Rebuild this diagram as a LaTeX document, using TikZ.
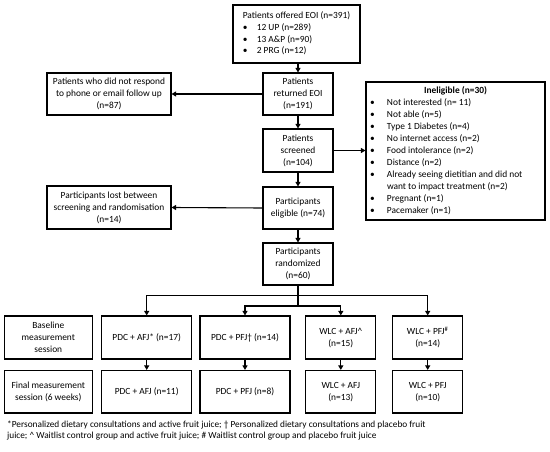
\documentclass[tikz,border=0pt]{standalone}
\usepackage{fontspec}
\setmainfont{Carlito}
\usetikzlibrary{arrows.meta}
\begin{document}
\begin{tikzpicture}[x=1pt,y=-1pt,
 box/.style={draw, line width=1.1pt, inner sep=0pt, align=center, font=\fontsize{9.4}{12}\selectfont},
 arr/.style={line width=1.1pt, -{Triangle[length=4.5pt,width=5pt]}},
 ln/.style={line width=1.1pt}]
\useasboundingbox (0,0) rectangle (550,452);

\node[box, minimum width=127pt, minimum height=58pt] (top) at (296.5,34)
 {\fontsize{9.4}{11.7}\selectfont\begin{tabular}{@{}p{14pt}@{}l@{}}
 \multicolumn{2}{@{}l@{}}{Patients offered EOI (n=391)}\\
 \textbullet & 12 UP (n=289)\\
 \textbullet & 13 A\&P (n=90)\\
 \textbullet & 2 PRG (n=12)
 \end{tabular}};

\node[box, minimum width=70pt, minimum height=42pt] (ret) at (298,94) {Patients\\returned EOI\\(n=191)};
\node[box, minimum width=70pt, minimum height=43pt] (scr) at (298,150.5) {Patients\\screened\\(n=104)};
\node[box, minimum width=70pt, minimum height=42pt] (eli) at (298,208) {Participants\\eligible (n=74)};
\node[box, minimum width=70pt, minimum height=42pt] (ran) at (298,264) {Participants\\randomized\\(n=60)};

\node[box, minimum width=124pt, minimum height=42pt] (noresp) at (109,94) {Patients who did not respond\\to phone or email follow up\\(n=87)};
\node[box, minimum width=124pt, minimum height=43pt] (lost) at (109,207.5) {Participants lost between\\screening and randomisation\\(n=14)};

\node[box, minimum width=179pt, minimum height=138pt] (inel) at (455.5,151)
 {\begin{tabular}{@{}p{17pt}@{}p{154pt}@{}}
 \multicolumn{2}{@{}c@{}}{\textbf{Ineligible (n=30)}}\\
 \textbullet & Not interested (n= 11)\\
 \textbullet & Not able (n=5)\\
 \textbullet & Type 1 Diabetes (n=4)\\
 \textbullet & No internet access (n=2)\\
 \textbullet & Food intolerance (n=2)\\
 \textbullet & Distance (n=2)\\
 \textbullet & Already seeing dietitian and did not\\
  & want to impact treatment (n=2)\\
 \textbullet & Pregnant (n=1)\\
 \textbullet & Pacemaker (n=1)
 \end{tabular}};

\node[box, minimum width=88.5pt, minimum height=43pt] (base) at (48.3,337.5) {Baseline\\measurement\\session};
\node[box, minimum width=90pt, minimum height=43pt] (g1) at (146.7,337.5) {PDC + AFJ* (n=17)};
\node[box, minimum width=90pt, minimum height=43pt] (g2) at (245,337.5) {PDC + PFJ† (n=14)};
\node[box, minimum width=70pt, minimum height=43pt] (g3) at (340.8,337.5) {WLC + AFJ\textasciicircum\\(n=15)};
\node[box, minimum width=70pt, minimum height=43pt] (g4) at (427.7,337.5) {WLC + PFJ\textsuperscript{\#}\\(n=14)};

\node[box, minimum width=88.5pt, minimum height=42.5pt] (fbase) at (48.3,391.7) {Final measurement\\session (6 weeks)};
\node[box, minimum width=90pt, minimum height=42.5pt] (f1) at (146.7,391.7) {PDC + AFJ (n=11)};
\node[box, minimum width=90pt, minimum height=42.5pt] (f2) at (245,391.7) {PDC + PFJ (n=8)};
\node[box, minimum width=70pt, minimum height=42.5pt] (f3) at (340.8,391.7) {WLC + AFJ\\(n=13)};
\node[box, minimum width=70pt, minimum height=42.5pt] (f4) at (427.7,391.7) {WLC + PFJ\\(n=10)};

\draw[arr] (top.south -| ret.north) -- (ret.north);
\draw[arr] (ret) -- (scr);
\draw[arr] (scr) -- (eli);
\draw[arr] (eli) -- (ran);
\draw[arr] (ret.west) -- (noresp.east);
\draw[arr] (eli.west) -- (lost.east);
\draw[arr] (scr.east) -- (scr.east -| inel.west);

\coordinate (j1) at (298,295.7);
\coordinate (j2) at (298,306);
\draw[ln] (ran.south) -- (j2);
\draw[arr] (j1) -| (g1.north);
\draw[arr] (j1) -| (g4.north);
\draw[arr] (j2) -| (g2.north);
\draw[arr] (j2) -| (g3.north);

\draw[arr] (g1) -- (f1);
\draw[arr] (g2) -- (f2);
\draw[arr] (g3) -- (f3);
\draw[arr] (g4) -- (f4);

\node[anchor=north west, inner sep=0pt, align=left, font=\fontsize{9.3}{11.5}\selectfont] (fn) at (7,420.5)
 {*Personalized dietary consultations and active fruit juice; † Personalized dietary consultations and placebo fruit\\
 juice; \textasciicircum\ Waitlist control group and active fruit juice; \# Waitlist control group and placebo fruit juice};
\end{tikzpicture}
\end{document}
